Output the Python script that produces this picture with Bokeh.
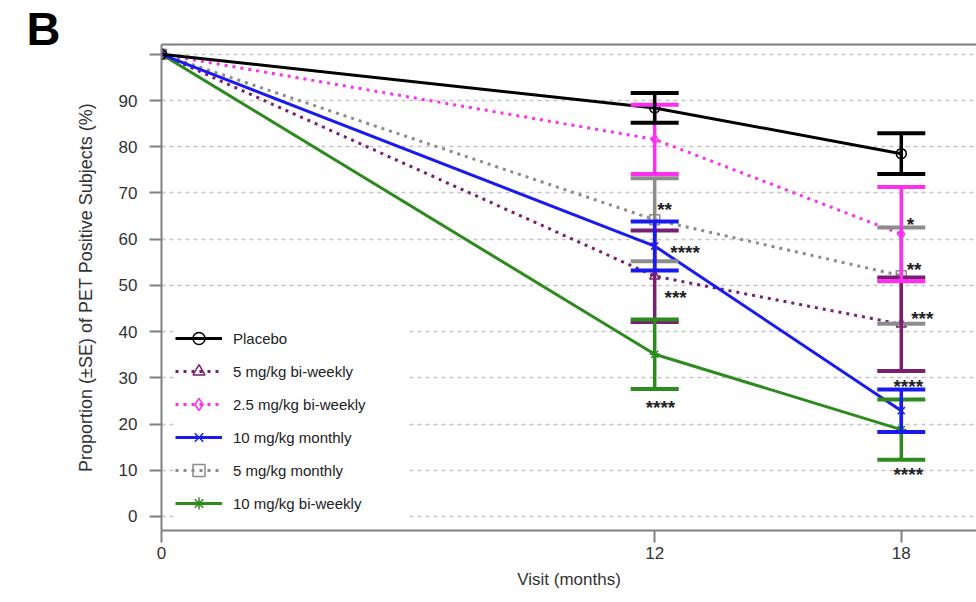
from bokeh.plotting import figure
from bokeh.models import (LinearAxis, Legend, LegendItem, Title, FixedTicker, Range1d)
from bokeh.embed import file_html
from bokeh.resources import INLINE
from bokeh.core.properties import value

# ---------------- data ----------------
visits = [0, 12, 18]
x_ticks = [0, 12, 18]
y_ticks = [0, 10, 20, 30, 40, 50, 60, 70, 80, 90, 100]

names = ["Placebo", "5 mg/kg bi-weekly", "2.5 mg/kg bi-weekly",
         "10 mg/kg monthly", "5 mg/kg monthly", "10 mg/kg bi-weekly"]

placebo = [100, 88.4, 78.5]
placebo_se = [0, 3.2, 4.4]
bw5 = [100, 52.0, 41.6]
bw5_se = [0, 9.9, 10.1]
bw25 = [100, 81.6, 61.1]
bw25_se = [0, 7.5, 10.2]
m10 = [100, 58.5, 22.9]
m10_se = [0, 5.3, 4.6]
m5 = [100, 64.2, 52.1]
m5_se = [0, 9.0, 10.4]
bw10 = [100, 35.1, 18.8]
bw10_se = [0, 7.5, 6.5]

star_x = [12.06, 12.38, 12.24, 11.78, 18.13, 18.13, 18.24, 17.81, 17.81]
star_y = [67.5, 58.3, 48.5, 24.7, 64.3, 54.5, 44.0, 29.1, 10.1]
star_text = ["**", "****", "***", "****", "*", "**", "***", "****", "****"]

FONT = "Liberation Sans"

p = figure(width=976, height=602, x_range=Range1d(0, 19.83), y_range=Range1d(-3.03, 102.12),
           output_backend="svg", toolbar_location=None,
           min_border_left=161, min_border_right=0, min_border_top=44, min_border_bottom=72)
p.outline_line_color = None
p.background_fill_color = "white"
p.border_fill_color = "white"

# axes
for ax in (p.xaxis[0], p.yaxis[0]):
    ax.axis_line_color = "#808080"
    ax.axis_line_width = 2
    ax.major_tick_line_color = "#808080"
    ax.major_tick_line_width = 2
    ax.major_tick_out = 12
    ax.major_tick_in = 0
    ax.minor_tick_line_color = None
    ax.major_label_text_font = FONT
    ax.major_label_text_font_size = "17px"
    ax.major_label_text_color = "#333333"
    ax.axis_label_text_font = FONT
    ax.axis_label_text_font_style = "normal"
    ax.axis_label_text_color = "#333333"

p.xaxis[0].ticker = FixedTicker(ticks=x_ticks)
p.xaxis[0].major_label_standoff = 4
p.xaxis[0].axis_label = "Visit (months)"
p.xaxis[0].axis_label_text_font_size = "17px"
p.xaxis[0].axis_label_standoff = 8

p.yaxis[0].ticker = FixedTicker(ticks=y_ticks)
p.yaxis[0].major_label_overrides = {100: ""}
p.yaxis[0].major_label_standoff = 12
p.yaxis[0].axis_label = "Proportion (\u00b1SE) of PET Positive Subjects (%)"
p.yaxis[0].axis_label_text_font_size = "18px"
p.yaxis[0].axis_label_standoff = 20

top_axis = LinearAxis(ticker=FixedTicker(ticks=[]), axis_line_color="#808080", axis_line_width=2,
                      major_tick_line_color=None, minor_tick_line_color=None,
                      major_label_text_font_size="0px")
p.add_layout(top_axis, "above")

p.add_layout(Title(text="B", align="left", offset=-135, standoff=-24, vertical_align="top",
                   text_font=FONT, text_font_size="47px", text_font_style="bold",
                   text_color="black"), "above")

p.xgrid.visible = False
p.ygrid.ticker = FixedTicker(ticks=y_ticks)
p.ygrid.grid_line_color = "#C4C4C4"
p.ygrid.grid_line_dash = "4 4"
p.ygrid.grid_line_width = 1.5

series = {
    "Placebo": (placebo, placebo_se, "#000000", "solid", "circle"),
    "5 mg/kg bi-weekly": (bw5, bw5_se, "#7A1E72", "3 5", "triangle"),
    "2.5 mg/kg bi-weekly": (bw25, bw25_se, "#FF2EF0", "3 5", "diamond"),
    "10 mg/kg monthly": (m10, m10_se, "#1A1AF0", "solid", "x"),
    "5 mg/kg monthly": (m5, m5_se, "#8C8C8C", "3 5", "square"),
    "10 mg/kg bi-weekly": (bw10, bw10_se, "#2D8B1E", "solid", "asterisk"),
}

draw_order = ["5 mg/kg monthly", "5 mg/kg bi-weekly", "2.5 mg/kg bi-weekly",
              "10 mg/kg bi-weekly", "10 mg/kg monthly", "Placebo"]

renderers = {}
for name in draw_order:
    vals, se, color, dash, marker = series[name]
    ln = p.line(visits, vals, line_color=color, line_width=3, line_dash=dash)
    mk = p.scatter(visits, vals, marker=marker, size=10, line_color=color, line_width=1.5,
                   fill_color=None)
    renderers[name] = [ln, mk]

for name in draw_order:
    vals, se, color, dash, marker = series[name]
    xs = visits[1:]
    lo = [v - s for v, s in zip(vals[1:], se[1:])]
    hi = [v + s for v, s in zip(vals[1:], se[1:])]
    p.segment(xs, lo, xs, hi, line_color=color, line_width=3.5)
    p.scatter(xs, lo, marker="dash", size=48, line_color=color, line_width=4)
    p.scatter(xs, hi, marker="dash", size=48, line_color=color, line_width=4)

p.text(x=star_x, y=star_y, text=star_text, text_font=value(FONT), text_font_size="19px",
       text_font_style="bold", text_color="#222222", text_baseline="middle", text_align="left",
       y_offset=5)

items = [LegendItem(label=n, renderers=renderers[n]) for n in names]
legend = Legend(items=items, location=(14, 12), glyph_width=47, glyph_height=30, label_height=30,
                spacing=3, padding=10, margin=0, label_standoff=11, label_width=175,
                label_text_font=FONT, label_text_font_size="15px", label_text_color="#222222",
                border_line_color=None, background_fill_color="white", background_fill_alpha=1.0)
p.add_layout(legend)

open("out.html", "w").write(file_html(p, INLINE))
